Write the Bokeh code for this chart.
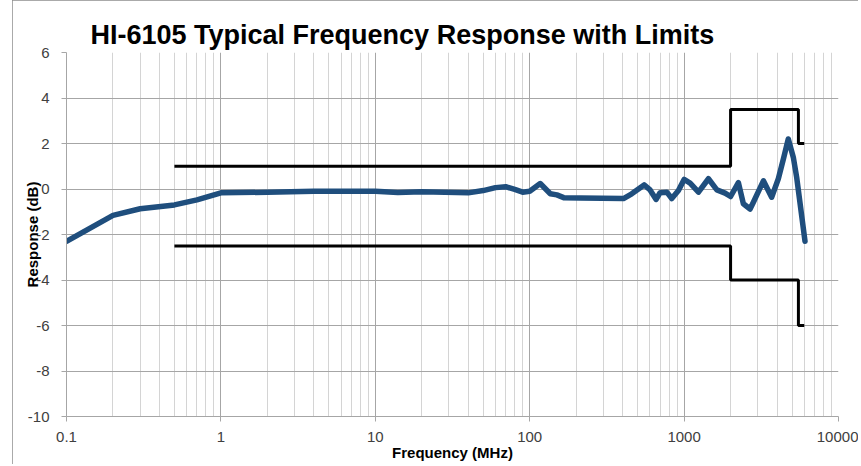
from bokeh.plotting import figure
from bokeh.models import Range1d, FixedTicker
from bokeh.embed import file_html
from bokeh.resources import INLINE

# ---- data ----
freq_mhz = [0.1, 0.2, 0.3, 0.5, 0.7, 1.0, 2, 4, 10, 14, 20, 40, 50, 60, 70, 80, 90, 100,
            117, 136, 150, 166, 212, 405, 458, 551, 602, 659, 699, 773, 832, 919, 1000,
            1094, 1239, 1438, 1630, 1842, 2000, 2247, 2421, 2675, 2810, 3263, 3690, 4077,
            4400, 4730, 5096, 5357, 6070]
response_db = [-2.3, -1.16, -0.87, -0.70, -0.48, -0.17, -0.14, -0.10, -0.10, -0.15, -0.12,
               -0.17, -0.07, 0.06, 0.10, -0.02, -0.14, -0.10, 0.24, -0.21, -0.26, -0.38,
               -0.40, -0.42, -0.21, 0.18, -0.04, -0.46, -0.16, -0.14, -0.42, -0.07, 0.42,
               0.26, -0.14, 0.45, -0.04, -0.18, -0.33, 0.28, -0.65, -0.88, -0.58, 0.36,
               -0.36, 0.45, 1.33, 2.2, 1.4, 0.52, -2.3]

limit_freq = [0.5, 2000, 2000, 5500, 5500, 6000]
upper_limit = [1, 1, 3.5, 3.5, 2, 2]
lower_limit = [-2.5, -2.5, -4, -4, -6, -6]

x_ticks = [0.1, 1, 10, 100, 1000, 10000]
x_tick_labels = ["0.1", "1", "10", "100", "1000", "10000"]
y_ticks = [-10, -8, -6, -4, -2, 0, 2, 4, 6]
y_tick_labels = ["-10", "-8", "-6", "-4", "-2", "0", "2", "4", "6"]

title_text = "HI-6105 Typical Frequency Response with Limits"
x_title = "Frequency (MHz)"
y_title = "Response (dB)"

# ---- figure ----
W, H = 846, 464
p = figure(width=W, height=H, x_axis_type="log", output_backend="svg",
           toolbar_location=None, x_range=Range1d(0.1, 10000), y_range=Range1d(-10, 6),
           min_border_left=54, min_border_right=20, min_border_top=52, min_border_bottom=48)
p.styles = {"margin-left": "12px", "outline": "1px solid #8E8E8E", "outline-offset": "-1px"}
p.outline_line_color = None
p.background_fill_color = "white"
p.border_fill_color = "white"

p.title.text = title_text
p.title.align = "left"
p.title.offset = 24
p.title.standoff = 5
p.title.text_font = "Liberation Sans"
p.title.text_font_style = "bold"
p.title.text_font_size = "27px"
p.title.text_color = "black"

minor = []
for i in range(len(x_ticks) - 1):
    for m in range(2, 10):
        minor.append(x_ticks[i] * m)

p.xaxis.ticker = FixedTicker(ticks=x_ticks, minor_ticks=minor)
p.xaxis.major_label_overrides = {t: l for t, l in zip(x_ticks, x_tick_labels)}
p.yaxis.ticker = FixedTicker(ticks=y_ticks)
p.yaxis.major_label_overrides = {t: l for t, l in zip(y_ticks, y_tick_labels)}

for ax in (p.xaxis, p.yaxis):
    ax.axis_line_color = "#A6A6A6"
    ax.major_tick_line_color = "#A6A6A6"
    ax.major_tick_out = 5
    ax.major_tick_in = 0
    ax.minor_tick_line_color = None
    ax.major_label_text_font = "Liberation Sans"
    ax.major_label_text_font_size = "15px"
    ax.major_label_text_color = "#404040"
    ax.axis_label_text_font = "Liberation Sans"
    ax.axis_label_text_font_style = "bold"
    ax.axis_label_text_font_size = "15px"
    ax.axis_label_text_color = "black"
p.xaxis.major_label_standoff = 10
p.yaxis.major_label_standoff = 12
p.xaxis.axis_label = x_title
p.yaxis.axis_label = y_title
p.xaxis.axis_label_standoff = -1
p.yaxis.axis_label_standoff = -16

p.xgrid.grid_line_color = "#A6A6A6"
p.xgrid.minor_grid_line_color = "#D4D4D4"
p.ygrid.grid_line_color = "#A6A6A6"

# ---- series ----
p.line(limit_freq, upper_limit, line_color="black", line_width=3)
p.line(limit_freq, lower_limit, line_color="black", line_width=3)
p.line(freq_mhz, response_db, line_color="#1F4E7D", line_width=5.5,
       line_join="round", line_cap="round")

open("out.html", "w").write(file_html(p, INLINE))
